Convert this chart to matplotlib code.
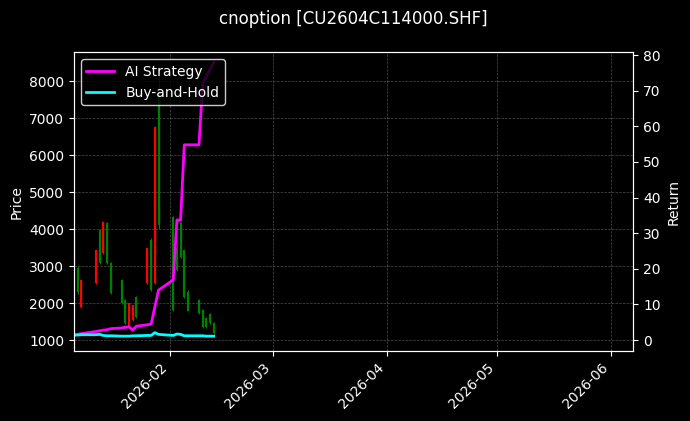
import matplotlib
matplotlib.use("Agg")
import matplotlib.pyplot as plt
import matplotlib.dates as mdates
import pandas as pd

dates = ["2026-01-06","2026-01-07","2026-01-08","2026-01-12","2026-01-13","2026-01-14",
         "2026-01-15","2026-01-16","2026-01-19","2026-01-20","2026-01-21","2026-01-22","2026-01-23",
         "2026-01-26","2026-01-27","2026-01-28","2026-01-29","2026-02-02","2026-02-03",
         "2026-02-04","2026-02-05","2026-02-06","2026-02-09","2026-02-10","2026-02-11","2026-02-12","2026-02-13"]
opens  = [3100,2300,2620,3430,3080,4190,3080,2270,2000,1460,2000,1950,1620,3490,2350,6750,4100,1810,2900,3240,2160,1800,1730,1350,1350,1460,1190]
closes = [3800,2950,1890,2540,3970,3350,4160,3080,2620,2080,1350,1540,2160,2540,3700,2540,7800,4320,3500,4160,3430,2300,2080,1810,1600,1700,1460]
highs  = [4000,3000,2650,3450,4000,4230,4200,3100,2650,2100,2000,1960,2200,3500,3750,6800,8400,4350,3600,4200,3450,2350,2100,1830,1620,1720,1480]
lows   = [3000,2250,1880,2520,3050,3330,3050,2250,1980,1440,1340,1520,1600,2520,2330,2520,4000,1790,2880,3220,2140,1780,1710,1330,1330,1440,1170]
ai_ret = [1.4,1.6,1.8,2.4,2.6,2.8,2.9,3.2,3.4,3.6,3.7,2.8,3.9,4.3,4.5,9.3,14.0,16.9,33.7,33.7,54.8,54.8,54.8,72.0,74.0,76.0,78.0]
bh_ret = [1.4,1.4,1.5,1.5,1.6,1.3,1.2,1.2,1.1,1.1,1.1,1.2,1.2,1.3,1.3,2.1,1.6,1.3,1.7,1.6,1.2,1.2,1.2,1.2,1.1,1.1,1.1]

d = pd.to_datetime(dates)
plt.rcParams['font.family'] = ['DejaVu Sans']
fig, ax = plt.subplots(figsize=(6.9, 4.21), dpi=100)
fig.patch.set_facecolor('black')
ax.set_facecolor('black')
for i in range(len(d)):
    c = 'green' if closes[i] >= opens[i] else 'red'
    ax.vlines(d[i], lows[i], highs[i], color=c, linewidth=0.8)
    ax.vlines(d[i], min(opens[i], closes[i]), max(opens[i], closes[i]), color=c, linewidth=1.6)
ax.set_ylim(703, 8784)
ax.set_xlim(pd.Timestamp("2026-01-06"), pd.Timestamp("2026-06-07"))
ax.set_ylabel("Price", color='white')
ax.grid(True, color='gray', linestyle='--', linewidth=0.5, alpha=0.6)
ax.xaxis.set_major_locator(mdates.MonthLocator())
ax.xaxis.set_major_formatter(mdates.DateFormatter('%Y-%m'))
plt.setp(ax.get_xticklabels(), rotation=45, ha='right')
ax2 = ax.twinx()
ax2.plot(d, ai_ret, color='magenta', linewidth=2, label='AI Strategy')
ax2.plot(d, bh_ret, color='cyan', linewidth=2, label='Buy-and-Hold')
ax2.set_ylim(-3.1, 80.8)
ax2.set_ylabel("Return", color='white')
for a in (ax, ax2):
    a.tick_params(colors='white')
    for s in a.spines.values():
        s.set_color('white')
ax2.legend(loc='upper left', facecolor='black', edgecolor='white', labelcolor='white')
ax.set_title("cnoption [CU2604C114000.SHF]", color='white', pad=20)
fig.subplots_adjust(left=0.107, right=0.918, top=0.876, bottom=0.166)
fig.savefig("out.png", facecolor='black')
